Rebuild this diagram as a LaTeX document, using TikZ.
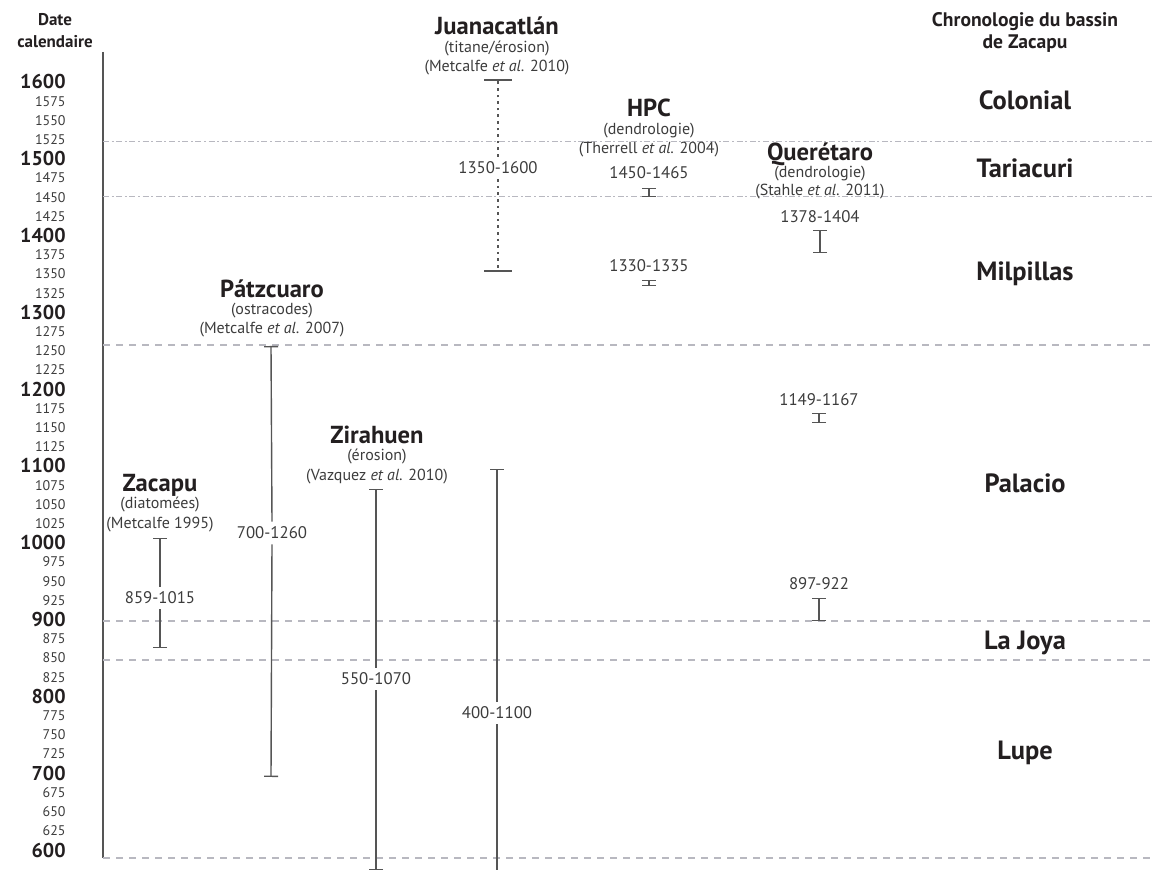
\documentclass[tikz,border=0pt]{standalone}
\usepackage{fontspec}
\setmainfont{PT Sans}
\usetikzlibrary{arrows.meta, positioning}
\definecolor{txtdark}{HTML}{231F20}
\definecolor{txtgray}{HTML}{3C3C3C}
\definecolor{bargray}{HTML}{555555}
\definecolor{gridgray}{HTML}{B8B8C0}

\begin{document}
\begin{tikzpicture}[x=0.5pt, y=-0.5pt,
    tickbig/.style={anchor=east, inner sep=0pt, text height=7pt, text depth=0pt, text=txtdark, font=\fontsize{10}{12}\selectfont\bfseries},
    ticksmall/.style={anchor=east, inner sep=0pt, text height=4.9pt, text depth=0pt, text=txtgray, font=\fontsize{7}{9}\selectfont},
    header/.style={inner sep=0pt, text height=6pt, text depth=0pt, text=txtdark, font=\fontsize{8.5}{10}\selectfont\bfseries},
    chronohead/.style={inner sep=0pt, text height=6.9pt, text depth=0pt, text=txtdark, font=\fontsize{9.8}{11}\selectfont\bfseries},
    sitename/.style={inner sep=0pt, text height=8.6pt, text depth=0pt, text=txtdark, font=\fontsize{12.3}{14}\selectfont\bfseries},
    sitenote/.style={inner sep=0pt, text height=5.6pt, text depth=0pt, text=txtgray, font=\fontsize{8}{10}\selectfont},
    rangelabel/.style={inner sep=2.5pt, text height=5.9pt, text depth=0pt, text=txtgray, font=\fontsize{8.4}{10}\selectfont},
    periodlabel/.style={inner sep=0pt, text height=9.2pt, text depth=0pt, text=txtdark, font=\fontsize{13.2}{15}\selectfont\bfseries},
    errbar/.style={line width=0.7pt, draw=bargray, -{Bar[width=7pt]}},
    errbarboth/.style={line width=0.7pt, draw=bargray, {Bar[width=7pt]}-{Bar[width=7pt]}},
    openbar/.style={line width=0.7pt, draw=bargray},
    dotbar/.style={line width=0.7pt, draw=bargray, dash pattern=on 1.3pt off 2pt},
    dashline/.style={line width=0.6pt, draw=gridgray, dash pattern=on 3.5pt off 3pt},
    dashdotline/.style={line width=0.5pt, draw=gridgray, dash pattern=on 3pt off 1.3pt on 1pt off 1.3pt}]

  \useasboundingbox (0,0) rectangle (1153,870);

  % headers
  \node[header] (datehd) at (55,20) {Date};
  \node[header] (datehd2) at (55,42) {calendaire};
  \node[chronohead] (chronohd) at (1025,20) {Chronologie du bassin};
  \node[chronohead] (chronohd2) at (1025,42) {de Zacapu};

  % axis and year labels
  \coordinate (axtop) at (103,52);
  \coordinate (axbot) at (103,858);
  \draw[line width=0.8pt, draw=bargray] (axtop) -- (axbot);
  \foreach \c in {600,700,...,1600}
    \node[tickbig] (t\c) at (66,{82+(1600-\c)*0.768}) {\c};
  \foreach \c in {600,700,...,1500}
    \foreach \d in {25,50,75}
      \pgfmathtruncatemacro{\yy}{\c+\d}
      \node[ticksmall] (t\yy) at (66,{82+(1600-\yy)*0.768}) {\yy};

  % period boundaries
  \foreach \yl/\sty in {142/dashdotline, 197/dashdotline, 345/dashline, 621/dashline, 660/dashline, 858/dashline}
    \draw[\sty] (103,\yl) -- (1153,\yl);

  % periods of the Zacapu basin
  \node[periodlabel] (colonial) at (1025,100) {Colonial};
  \node[periodlabel] (tariacuri) at (1025,168) {Tariacuri};
  \node[periodlabel] (milpillas) at (1025,271) {Milpillas};
  \node[periodlabel] (palacio) at (1025,483) {Palacio};
  \node[periodlabel] (lajoya) at (1025,640) {La Joya};
  \node[periodlabel] (lupe) at (1025,750) {Lupe};

  % Zacapu
  \node[sitename] (zac) at (160,483) {Zacapu};
  \node[sitenote] (zac-a) at (160,503) {(diatomées)};
  \node[sitenote] (zac-b) at (160,523) {(Metcalfe 1995)};
  \coordinate (zac-top) at (160,538);
  \coordinate (zac-bot) at (160,648);
  \node[rangelabel] (zac-r) at (160,598) {859-1015};
  \draw[errbar] (zac-r.north) -- (zac-top);
  \draw[errbar] (zac-r.south) -- (zac-bot);

  % Patzcuaro
  \node[sitename] (patz) at (272,289) {Pátzcuaro};
  \node[sitenote] (patz-a) at (272,309) {(ostracodes)};
  \node[sitenote] (patz-b) at (272,328) {(Metcalfe \textit{et al.} 2007)};
  \coordinate (patz-top) at (271,346);
  \coordinate (patz-bot) at (271,777);
  \node[rangelabel] (patz-r) at (272,533) {700-1260};
  \draw[errbar] (patz-r.north) -- (patz-top);
  \draw[errbar] (patz-r.south) -- (patz-bot);

  % Zirahuen
  \node[sitename] (zir) at (377,435) {Zirahuen};
  \node[sitenote] (zir-a) at (377,455) {(érosion)};
  \node[sitenote] (zir-b) at (377,475) {(Vazquez \textit{et al.} 2010)};
  \coordinate (zir-top) at (376,489);
  \coordinate (zir-bot) at (376,870);
  \node[rangelabel] (zir-r) at (376,679) {550-1070};
  \draw[errbar] (zir-r.north) -- (zir-top);
  \draw[errbar] (zir-r.south) -- (zir-bot);

  % Juanacatlan
  \node[sitename] (juan) at (497,26) {Juanacatlán};
  \node[sitenote] (juan-a) at (497,47) {(titane/érosion)};
  \node[sitenote] (juan-b) at (497,66) {(Metcalfe \textit{et al.} 2010)};
  \coordinate (juan1-top) at (498,80);
  \coordinate (juan1-bot) at (498,271);
  \node[rangelabel] (juan1-r) at (498,168) {1350-1600};
  \draw[dotbar] (juan1-r.north) -- (juan1-top);
  \draw[dotbar] (juan1-r.south) -- (juan1-bot);
  \draw[openbar] ([xshift=-7pt]juan1-top) -- ([xshift=7pt]juan1-top);
  \draw[openbar] ([xshift=-7pt]juan1-bot) -- ([xshift=7pt]juan1-bot);
  \coordinate (juan2-top) at (497,469);
  \coordinate (juan2-bot) at (497,875);
  \node[rangelabel] (juan2-r) at (497,713) {400-1100};
  \draw[errbar] (juan2-r.north) -- (juan2-top);
  \draw[openbar] (juan2-r.south) -- (juan2-bot);

  % HPC
  \node[sitename] (hpc) at (649,108) {HPC};
  \node[sitenote] (hpc-a) at (649,129) {(dendrologie)};
  \node[sitenote] (hpc-b) at (649,148) {(Therrell \textit{et al.} 2004)};
  \node[rangelabel] (hpc1-r) at (649,173) {1450-1465};
  \coordinate (hpc1-top) at (649,188);
  \coordinate (hpc1-bot) at (649,197);
  \draw[errbarboth] (hpc1-top) -- (hpc1-bot);
  \node[rangelabel] (hpc2-r) at (649,266) {1330-1335};
  \coordinate (hpc2-top) at (649,280);
  \coordinate (hpc2-bot) at (649,286);
  \draw[errbarboth] (hpc2-top) -- (hpc2-bot);

  % Queretaro
  \node[sitename] (quer) at (820,152) {Querétaro};
  \node[sitenote] (quer-a) at (820,172) {(dendrologie)};
  \node[sitenote] (quer-b) at (820,190) {(Stahle \textit{et al.} 2011)};
  \node[rangelabel] (quer1-r) at (820,217) {1378-1404};
  \coordinate (quer1-top) at (820,230);
  \coordinate (quer1-bot) at (820,253);
  \draw[errbarboth] (quer1-top) -- (quer1-bot);
  \node[rangelabel] (quer2-r) at (819,400) {1149-1167};
  \coordinate (quer2-top) at (819,413);
  \coordinate (quer2-bot) at (819,423);
  \draw[errbarboth] (quer2-top) -- (quer2-bot);
  \node[rangelabel] (quer3-r) at (819,584) {897-922};
  \coordinate (quer3-top) at (819,598);
  \coordinate (quer3-bot) at (819,621);
  \draw[errbarboth] (quer3-top) -- (quer3-bot);
\end{tikzpicture}
\end{document}
